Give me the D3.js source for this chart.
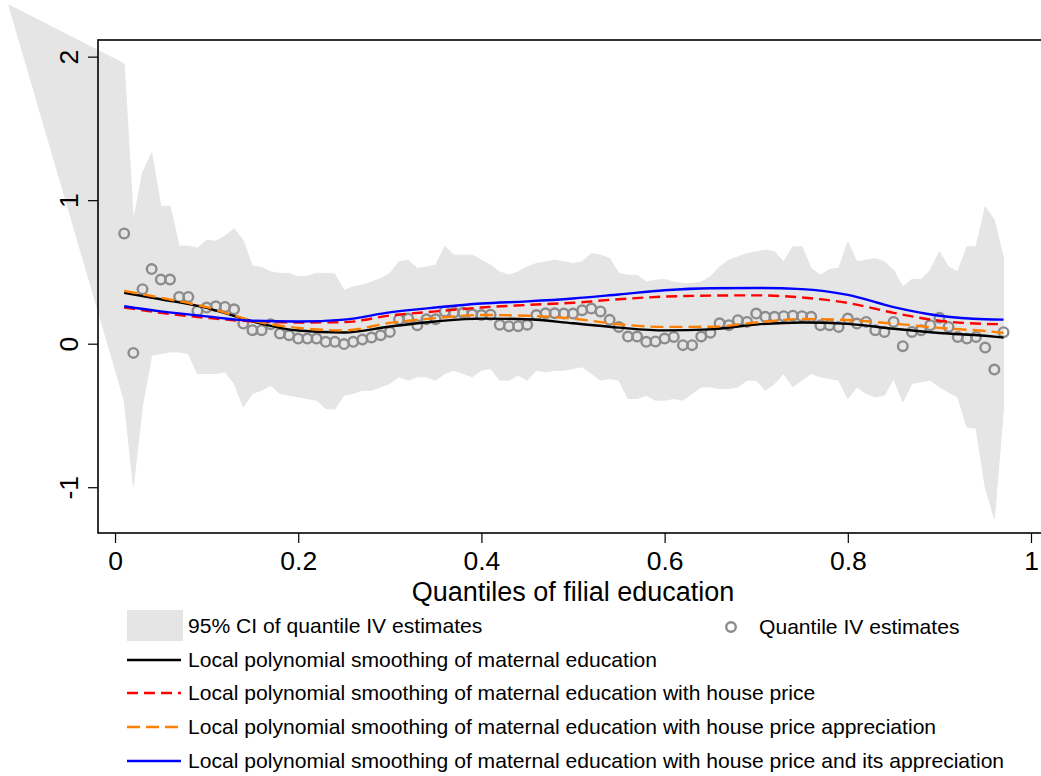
<!DOCTYPE html>
<html><head><meta charset="utf-8">
<script src="https://cdn.jsdelivr.net/npm/d3@7"></script>
<style>
html,body{margin:0;padding:0;background:#fff;}
svg{display:block;}
text{font-family:"Liberation Sans",Arial,sans-serif;fill:#000;}
</style></head>
<body>
<svg id="chart" width="1041" height="776"></svg>
<script>
// ---------------- data ----------------
const quantiles = [0.01,0.02,0.03,0.04,0.05,0.06,0.07,0.08,0.09,0.10,
0.11,0.12,0.13,0.14,0.15,0.16,0.17,0.18,0.19,0.20,
0.21,0.22,0.23,0.24,0.25,0.26,0.27,0.28,0.29,0.30,
0.31,0.32,0.33,0.34,0.35,0.36,0.37,0.38,0.39,0.40,
0.41,0.42,0.43,0.44,0.45,0.46,0.47,0.48,0.49,0.50,
0.51,0.52,0.53,0.54,0.55,0.56,0.57,0.58,0.59,0.60,
0.61,0.62,0.63,0.64,0.65,0.66,0.67,0.68,0.69,0.70,
0.71,0.72,0.73,0.74,0.75,0.76,0.77,0.78,0.79,0.80,
0.81,0.82,0.83,0.84,0.85,0.86,0.87,0.88,0.89,0.90,
0.91,0.92,0.93,0.94,0.95,0.96,0.97];

const ivEstimates = [0.768,-0.064,0.38,0.52,0.447,0.447,0.326,0.326,0.229,0.252,
0.261,0.256,0.24,0.14,0.094,0.094,0.136,0.071,0.059,0.036,
0.036,0.036,0.013,0.013,-0.003,0.013,0.029,0.043,0.059,0.082,
0.168,0.175,0.129,0.17,0.17,0.225,0.218,0.215,0.205,0.2,
0.202,0.132,0.122,0.122,0.132,0.2,0.212,0.212,0.21,0.21,
0.233,0.245,0.225,0.166,0.117,0.05,0.05,0.013,0.016,0.036,
0.047,-0.01,-0.01,0.05,0.076,0.142,0.129,0.164,0.152,0.21,
0.187,0.187,0.192,0.195,0.192,0.187,0.129,0.129,0.117,0.175,
0.14,0.152,0.094,0.082,0.152,-0.017,0.082,0.094,0.129,0.18,
0.117,0.047,0.036,0.047,-0.027,-0.18,0.08];

const ciUpper = [1.95,0.853,1.19,1.33,0.958,0.958,0.68,0.68,0.665,0.72,
0.714,0.75,0.80,0.72,0.54,0.533,0.50,0.49,0.49,0.465,
0.47,0.49,0.49,0.485,0.37,0.396,0.408,0.43,0.454,0.489,
0.57,0.582,0.524,0.535,0.547,0.679,0.617,0.617,0.617,0.582,
0.547,0.5,0.477,0.5,0.535,0.559,0.57,0.582,0.57,0.559,
0.57,0.628,0.617,0.594,0.489,0.477,0.477,0.43,0.442,0.447,
0.43,0.419,0.419,0.43,0.466,0.535,0.582,0.605,0.628,0.64,
0.652,0.64,0.57,0.675,0.675,0.524,0.477,0.517,0.524,0.709,
0.57,0.582,0.594,0.57,0.512,0.396,0.447,0.447,0.512,0.64,
0.535,0.5,0.675,0.675,0.953,0.861,0.594];

const ciLower = [-0.394,-0.99,-0.43,-0.08,-0.068,-0.057,-0.057,-0.068,-0.208,-0.208,
-0.208,-0.196,-0.277,-0.44,-0.347,-0.324,-0.289,-0.347,-0.359,-0.37,
-0.382,-0.394,-0.452,-0.455,-0.359,-0.347,-0.324,-0.324,-0.301,-0.277,
-0.231,-0.254,-0.231,-0.231,-0.254,-0.208,-0.185,-0.208,-0.231,-0.185,
-0.173,-0.254,-0.254,-0.22,-0.254,-0.185,-0.196,-0.185,-0.185,-0.173,
-0.161,-0.208,-0.254,-0.243,-0.254,-0.382,-0.382,-0.359,-0.394,-0.394,
-0.382,-0.394,-0.347,-0.301,-0.301,-0.312,-0.312,-0.301,-0.254,-0.254,
-0.324,-0.277,-0.208,-0.3,-0.254,-0.208,-0.231,-0.243,-0.254,-0.382,
-0.301,-0.347,-0.371,-0.359,-0.243,-0.406,-0.277,-0.266,-0.254,-0.301,
-0.338,-0.371,-0.58,-0.589,-0.998,-1.218,-0.45];

// leading vertex of the CI area (drawn outside the plot region in the original)
const ciStartQ = -0.116;
const ciStartValue = 2.36;

// local polynomial smoothing curves
const smoothQ = [0.01,0.05,0.10,0.15,0.20,0.25,0.30,0.35,0.40,0.45,0.50,0.55,0.60,0.65,0.70,0.75,0.80,0.85,0.90,0.95,0.97];
const smoothMaternal = [0.354,0.31,0.25,0.155,0.092,0.078,0.12,0.155,0.175,0.17,0.142,0.112,0.093,0.10,0.134,0.148,0.138,0.104,0.075,0.055,0.043];
const smoothHousePrice = [0.252,0.215,0.18,0.155,0.148,0.15,0.196,0.225,0.252,0.27,0.285,0.31,0.328,0.335,0.337,0.322,0.284,0.215,0.16,0.138,0.136];
const smoothAppreciation = [0.368,0.32,0.255,0.16,0.11,0.093,0.145,0.178,0.2,0.195,0.175,0.135,0.117,0.118,0.148,0.172,0.165,0.14,0.11,0.088,0.075];
const smoothBoth = [0.261,0.225,0.19,0.16,0.155,0.168,0.218,0.252,0.28,0.295,0.315,0.343,0.372,0.386,0.388,0.38,0.34,0.255,0.195,0.17,0.168];

const xTicks = [0,0.2,0.4,0.6,0.8,1];
const xTickLabels = ["0","0.2","0.4","0.6","0.8","1"];
const yTicks = [-1,0,1,2];
const yTickLabels = ["-1","0","1","2"];

const xTitle = "Quantiles of filial education";
const legendLabels = {
  ci: "95% CI of quantile IV estimates",
  pts: "Quantile IV estimates",
  maternal: "Local polynomial smoothing of maternal education",
  house: "Local polynomial smoothing of maternal education with house price",
  appr: "Local polynomial smoothing of maternal education with house price appreciation",
  both: "Local polynomial smoothing of maternal education with house price and its appreciation"
};

// ---------------- drawing ----------------
const svg = d3.select("#chart");
const frame = {left:98, top:40, right:1042, bottom:533};
const x = d3.scaleLinear().domain([-0.0186, 1.0120]).range([frame.left, frame.right]);
const y = d3.scaleLinear().domain([-1.319, 2.116]).range([frame.bottom, frame.top]);

const ciColor = "#e5e5e5";
const ptColor = "#8c8c8c";
const fontFam = '"Liberation Sans",Arial,sans-serif';

// CI area
const ciData = [{q:ciStartQ, lo:ciStartValue, hi:ciStartValue}]
  .concat(quantiles.map((q,i)=>({q, lo:ciLower[i], hi:ciUpper[i]})));
svg.append("path")
  .datum(ciData)
  .attr("fill", ciColor)
  .attr("stroke", ciColor)
  .attr("stroke-width", 1)
  .attr("d", d3.area().x(d=>x(d.q)).y0(d=>y(d.lo)).y1(d=>y(d.hi)));

// frame
svg.append("rect")
  .attr("x", frame.left).attr("y", frame.top)
  .attr("width", frame.right-frame.left).attr("height", frame.bottom-frame.top)
  .attr("fill","none").attr("stroke","#000").attr("stroke-width",1.6);

// points
svg.append("g").selectAll("circle")
  .data(quantiles.map((q,i)=>({q, v:ivEstimates[i]})))
  .join("circle")
  .attr("cx", d=>x(d.q)).attr("cy", d=>y(d.v)).attr("r", 4.8)
  .attr("fill","none").attr("stroke",ptColor).attr("stroke-width",2.4);

// smoothing lines
const series = [
  {vals:smoothMaternal, color:"#000000", dash:null},
  {vals:smoothHousePrice, color:"#ff0000", dash:"11,6"},
  {vals:smoothAppreciation, color:"#ff8000", dash:"13,6"},
  {vals:smoothBoth, color:"#0000ff", dash:null}
];
const lineGen = d3.line().x(d=>x(d.q)).y(d=>y(d.v)).curve(d3.curveMonotoneX);
series.forEach(s=>{
  svg.append("path")
    .datum(smoothQ.map((q,i)=>({q, v:s.vals[i]})))
    .attr("fill","none").attr("stroke",s.color).attr("stroke-width",2.4)
    .attr("stroke-dasharray", s.dash)
    .attr("d", lineGen);
});

// x axis
const xAxis = svg.append("g")
  .attr("transform",`translate(0,${frame.bottom})`)
  .call(d3.axisBottom(x).tickValues(xTicks).tickSize(10).tickPadding(8)
        .tickFormat((d,i)=>xTickLabels[i]));
xAxis.select(".domain").remove();
xAxis.selectAll("line").attr("stroke","#000").attr("stroke-width",1.2);
xAxis.selectAll("text").attr("font-size",26.5).attr("fill","#000").attr("font-family",fontFam);

// y axis
const yAxis = svg.append("g")
  .attr("transform",`translate(${frame.left},0)`)
  .call(d3.axisLeft(y).tickValues(yTicks).tickSize(10).tickFormat((d,i)=>yTickLabels[i]));
yAxis.select(".domain").remove();
yAxis.selectAll("line").attr("stroke","#000").attr("stroke-width",1.2);
yAxis.selectAll("text")
  .attr("font-size",26.5).attr("fill","#000").attr("font-family",fontFam)
  .attr("x",null)
  .attr("text-anchor","middle")
  .attr("transform","translate(-20,0) rotate(-90)")
  .attr("dy","0");

// x title
svg.append("text")
  .attr("x", 573).attr("y", 601)
  .attr("text-anchor","middle").attr("font-size",27)
  .text(xTitle);

// legend
const lg = svg.append("g");
const lfs = 21.1;
lg.append("rect").attr("x",127).attr("y",610).attr("width",56).attr("height",31).attr("fill",ciColor);
lg.append("text").attr("x",188).attr("y",626).attr("dy","0.35em").attr("font-size",lfs).text(legendLabels.ci);
lg.append("circle").attr("cx",731).attr("cy",627).attr("r",4.8)
  .attr("fill","none").attr("stroke",ptColor).attr("stroke-width",2.4);
lg.append("text").attr("x",759).attr("y",627).attr("dy","0.35em").attr("font-size",lfs).text(legendLabels.pts);

const legendRows = [
  {key:"maternal", y:660, s:series[0]},
  {key:"house", y:693, s:series[1]},
  {key:"appr", y:727, s:series[2]},
  {key:"both", y:761, s:series[3]}
];
legendRows.forEach(r=>{
  lg.append("line").attr("x1",127).attr("x2",181).attr("y1",r.y).attr("y2",r.y)
    .attr("stroke",r.s.color).attr("stroke-width",2.4)
    .attr("stroke-dasharray", r.s.dash);
  lg.append("text").attr("x",188).attr("y",r.y).attr("dy","0.35em").attr("font-size",lfs)
    .text(legendLabels[r.key]);
});
</script>
</body></html>
